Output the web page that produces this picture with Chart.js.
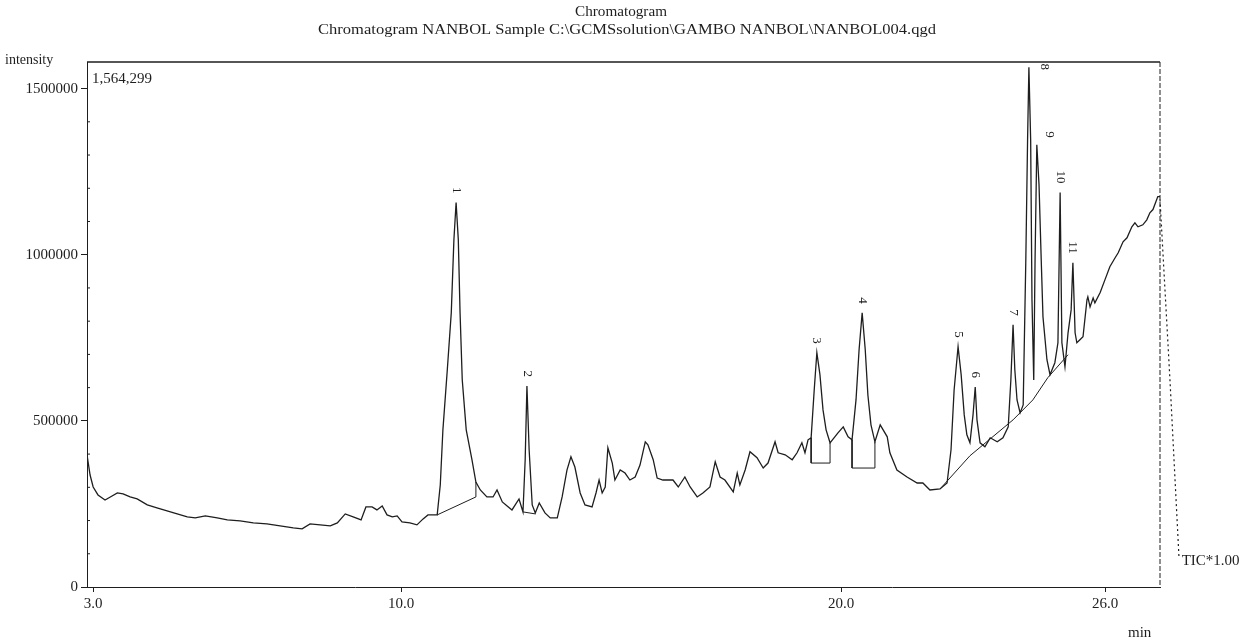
<!DOCTYPE html>
<html lang="en">
  <head>
    <meta charset="UTF-8" />
    <title>Chromatogram NANBOL004</title>
    <script src="https://cdn.jsdelivr.net/npm/chart.js"></script>
    <style>
      html, body { margin: 0; padding: 0; background: #fff; }
      .container { width: 1247px; height: 644px; position: relative; }
    </style>
  </head>
  <body>
    <div class="container">
      <canvas id="tic"></canvas>
    </div>

    <script>
      // retention time (min) and TIC intensity
      const retTime = [
        2.86, 2.93, 3.00, 3.11, 3.27, 3.39, 3.55, 3.68, 3.84, 4.00,
        4.23, 4.45, 4.68, 4.91, 5.14, 5.32, 5.55, 5.82, 6.05, 6.34,
        6.64, 6.95, 7.25, 7.55, 7.75, 7.93, 8.16, 8.39, 8.55, 8.73,
        8.91, 9.09, 9.20, 9.34, 9.45, 9.57, 9.68, 9.80, 9.91, 10.02,
        10.20, 10.36, 10.50, 10.61, 10.82, 10.89, 10.95, 11.05, 11.14, 11.20,
        11.25, 11.30, 11.34, 11.39, 11.48, 11.61, 11.70, 11.80, 11.95, 12.09,
        12.18, 12.30, 12.41, 12.52, 12.68, 12.77, 12.82, 12.86, 12.91, 12.98,
        13.05, 13.14, 13.27, 13.39, 13.55, 13.66, 13.77, 13.86, 13.95, 14.07,
        14.18, 14.34, 14.43, 14.50, 14.57, 14.64, 14.70, 14.80, 14.86, 14.98,
        15.09, 15.20, 15.32, 15.43, 15.55, 15.61, 15.73, 15.82, 15.95, 16.18,
        16.30, 16.45, 16.57, 16.73, 16.86, 17.02, 17.14, 17.25, 17.36, 17.55,
        17.64, 17.70, 17.82, 17.93, 18.09, 18.23, 18.34, 18.50, 18.57, 18.73,
        18.89, 19.00, 19.11, 19.18, 19.25, 19.32, 19.39, 19.45, 19.52, 19.59,
        19.66, 19.75, 19.93, 20.05, 20.16, 20.25, 20.34, 20.41, 20.48, 20.55,
        20.61, 20.68, 20.77, 20.89, 21.05, 21.11, 21.27, 21.50, 21.73, 21.86,
        22.02, 22.25, 22.41, 22.50, 22.57, 22.66, 22.73, 22.80, 22.86, 22.93,
        23.00, 23.05, 23.09, 23.16, 23.27, 23.39, 23.55, 23.68, 23.80, 23.86,
        23.91, 23.95, 24.00, 24.07, 24.14, 24.20, 24.24, 24.27, 24.31, 24.34,
        24.38, 24.41, 24.45, 24.50, 24.55, 24.59, 24.68, 24.75, 24.86, 24.93,
        24.98, 25.02, 25.09, 25.16, 25.23, 25.27, 25.32, 25.36, 25.43, 25.50,
        25.59, 25.61, 25.66, 25.73, 25.77, 25.89, 26.00, 26.11, 26.23, 26.30,
        26.41, 26.50, 26.61, 26.68, 26.75, 26.86, 26.95, 27.02, 27.09, 27.20,
        27.25
      ];
      const intensity = [
        398000, 337000, 301000, 277000, 262000, 271000, 283000, 280000, 271000, 265000,
        247000, 238000, 229000, 220000, 211000, 208000, 214000, 208000, 202000, 199000,
        193000, 190000, 184000, 178000, 175000, 190000, 187000, 184000, 193000, 220000,
        211000, 202000, 241000, 241000, 232000, 244000, 217000, 211000, 214000, 196000,
        193000, 187000, 205000, 217000, 217000, 307000, 473000, 654000, 825000, 1045000,
        1157000, 1045000, 825000, 623000, 473000, 383000, 316000, 292000, 271000, 271000,
        292000, 256000, 244000, 232000, 265000, 226000, 383000, 605000, 413000, 247000,
        223000, 253000, 223000, 208000, 208000, 271000, 352000, 392000, 361000, 283000,
        247000, 241000, 283000, 322000, 283000, 301000, 419000, 373000, 322000, 352000,
        343000, 322000, 331000, 367000, 437000, 428000, 383000, 328000, 322000, 322000,
        301000, 331000, 301000, 271000, 283000, 301000, 377000, 331000, 322000, 286000,
        343000, 307000, 352000, 407000, 389000, 358000, 373000, 437000, 404000, 398000,
        383000, 404000, 434000, 404000, 443000, 449000, 593000, 705000, 639000, 533000,
        473000, 434000, 464000, 482000, 452000, 443000, 563000, 714000, 825000, 714000,
        578000, 488000, 437000, 488000, 452000, 404000, 352000, 331000, 313000, 313000,
        292000, 295000, 313000, 413000, 593000, 723000, 639000, 518000, 458000, 434000,
        518000, 602000, 503000, 434000, 422000, 449000, 437000, 449000, 482000, 623000,
        789000, 654000, 563000, 524000, 548000, 985000, 1346000, 1564299, 1346000, 864000,
        623000, 985000, 1331000, 1211000, 985000, 813000, 684000, 639000, 675000, 735000,
        1187000, 735000, 663000, 765000, 834000, 976000, 765000, 735000, 744000, 753000,
        864000, 873000, 843000, 870000, 855000, 886000, 925000, 964000, 991000, 1006000,
        1039000, 1051000, 1084000, 1096000, 1084000, 1090000, 1105000, 1126000, 1136000, 1175000,
        1175000
      ];

      // dotted run-out past the end of the window
      const tailTime = [27.25, 27.48, 27.68, 27.72];
      const tailIntensity = [1166000, 614000, 93000, 93000];

      // integration baselines drawn under the peaks
      const base1Time = [10.82, 11.70, 11.70];
      const base1Value = [217000, 271000, 316000];
      const base2Time = [12.77, 13.05];
      const base2Value = [226000, 220000];
      const base3Time = [19.32, 19.32, 19.75, 19.75];
      const base3Value = [449000, 373000, 373000, 434000];
      const base4Time = [20.25, 20.25, 20.77, 20.77];
      const base4Value = [443000, 358000, 358000, 437000];
      const base5Time = [22.25, 22.93, 23.91, 24.36, 24.70, 25.16];
      const base5Value = [295000, 395000, 503000, 563000, 630000, 699000];

      // peak numbers
      const peakNo = ['1', '2', '3', '4', '5', '6', '7', '8', '9', '10', '11'];
      const peakTime = [11.25, 12.86, 19.45, 20.48, 22.66, 23.05, 23.91, 24.27, 24.45, 24.98, 25.27];
      const peakHeight = [1157000, 605000, 705000, 825000, 723000, 602000, 789000, 1564299, 1331000, 1187000, 976000];

      const xTicks = [3, 10, 20, 26];
      const yTicks = [0, 500000, 1000000, 1500000];
      const yMinor = [100000, 200000, 300000, 400000, 600000, 700000, 800000, 900000,
        1100000, 1200000, 1300000, 1400000];

      const ink = '#1e1e1e';
      const serif = '"Liberation Serif", "DejaVu Serif", serif';

      function toPoints(xs, ys) {
        return xs.map((x, i) => ({ x: x, y: ys[i] }));
      }

      function baseSet(xs, ys) {
        return {
          data: toPoints(xs, ys),
          borderColor: ink,
          borderWidth: 1,
          pointRadius: 0,
          clip: false,
        };
      }

      // draw a line of text stretched to a given width
      function stretchText(ctx, text, cx, cy, width) {
        const w = ctx.measureText(text).width;
        ctx.save();
        ctx.translate(cx, cy);
        ctx.scale(width / w, 1);
        ctx.textAlign = 'center';
        ctx.fillText(text, 0, 0);
        ctx.restore();
      }

      const decorations = {
        id: 'decorations',
        afterDraw(chart) {
          const ctx = chart.ctx;
          const area = chart.chartArea;
          const xs = chart.scales.x;
          const ys = chart.scales.y;
          ctx.save();

          // frame: solid top, dashed right
          ctx.strokeStyle = ink;
          ctx.lineWidth = 1.6;
          ctx.beginPath();
          ctx.moveTo(area.left, area.top);
          ctx.lineTo(area.right, area.top);
          ctx.stroke();
          ctx.lineWidth = 1;
          ctx.setLineDash([5, 2]);
          ctx.beginPath();
          ctx.moveTo(area.right, area.top);
          ctx.lineTo(area.right, area.bottom);
          ctx.stroke();

          // run-out of the trace past the window (outside the x range)
          ctx.lineWidth = 1.2;
          ctx.setLineDash([2, 3]);
          ctx.beginPath();
          tailTime.forEach((t, i) => {
            const px = xs.getPixelForValue(t);
            const py = ys.getPixelForValue(tailIntensity[i]);
            if (i === 0) ctx.moveTo(px, py);
            else ctx.lineTo(px, py);
          });
          ctx.stroke();
          ctx.setLineDash([]);
          ctx.lineWidth = 1;

          // minor ticks on the intensity axis
          yMinor.forEach((v) => {
            const py = ys.getPixelForValue(v);
            ctx.beginPath();
            ctx.moveTo(area.left, py);
            ctx.lineTo(area.left + 3, py);
            ctx.stroke();
          });

          ctx.fillStyle = ink;
          ctx.textBaseline = 'middle';

          // titles
          ctx.font = '15px ' + serif;
          stretchText(ctx, 'Chromatogram', 621, 12, 92);
          stretchText(ctx, 'Chromatogram NANBOL Sample C:\\GCMSsolution\\GAMBO NANBOL\\NANBOL004.qgd', 627, 30, 618);

          ctx.textAlign = 'left';
          ctx.font = '14px ' + serif;
          ctx.fillText('intensity', 5, 60);
          ctx.font = '15px ' + serif;
          ctx.fillText('1,564,299', area.left + 5, 79);
          ctx.fillText('min', 1128, 633);
          const lastX = xs.getPixelForValue(tailTime[tailTime.length - 1]);
          const lastY = ys.getPixelForValue(tailIntensity[tailIntensity.length - 1]);
          ctx.fillText('TIC*1.00', lastX + 1, lastY + 5);

          // peak numbers, turned on their side
          ctx.font = '13px ' + serif;
          peakNo.forEach((label, i) => {
            let px = xs.getPixelForValue(peakTime[i]);
            let py = ys.getPixelForValue(peakHeight[i]) - 9;
            if (label === '8') { px += 16; py = area.top + 8; }
            if (label === '9') { px += 13; py += 2; }
            ctx.save();
            ctx.translate(px, py);
            ctx.rotate(Math.PI / 2);
            ctx.textAlign = 'right';
            ctx.fillText(label, 0, 0);
            ctx.restore();
          });
          ctx.restore();
        },
      };

      const ctx = document.getElementById('tic').getContext('2d');
      new Chart(ctx, {
        type: 'line',
        data: {
          datasets: [
            {
              data: toPoints(retTime, intensity),
              borderColor: ink,
              borderWidth: 1.3,
              pointRadius: 0,
            },
            baseSet(base1Time, base1Value),
            baseSet(base2Time, base2Value),
            baseSet(base3Time, base3Value),
            baseSet(base4Time, base4Value),
            baseSet(base5Time, base5Value),
          ],
        },
        options: {
          responsive: true,
          maintainAspectRatio: false,
          animation: false,
          layout: { padding: { top: 62, right: 87, left: 0, bottom: 0 } },
          plugins: {
            legend: { display: false },
            tooltip: { enabled: false },
          },
          elements: { line: { tension: 0 } },
          scales: {
            x: {
              type: 'linear',
              min: 2.86,
              max: 27.25,
              afterBuildTicks: (s) => {
                s.ticks = xTicks.map((v) => ({ value: v }));
              },
              afterFit: (s) => {
                s.height = 57;
              },
              ticks: {
                callback: (v) => Number(v).toFixed(1),
                color: ink,
                font: { family: serif, size: 15 },
                maxRotation: 0,
                padding: 3,
              },
              grid: { drawOnChartArea: false, tickLength: 5, color: ink },
              border: { color: ink, dash: [6, 2] },
            },
            y: {
              min: 0,
              max: 1580000,
              afterBuildTicks: (s) => {
                s.ticks = yTicks.map((v) => ({ value: v }));
              },
              afterFit: (s) => {
                s.width = 87;
              },
              ticks: {
                callback: (v) => String(v),
                color: ink,
                font: { family: serif, size: 15 },
                padding: 3,
              },
              grid: { drawOnChartArea: false, tickLength: 6, color: ink },
              border: { color: ink, dash: [6, 2] },
            },
          },
        },
        plugins: [decorations],
      });
    </script>
  </body>
</html>
